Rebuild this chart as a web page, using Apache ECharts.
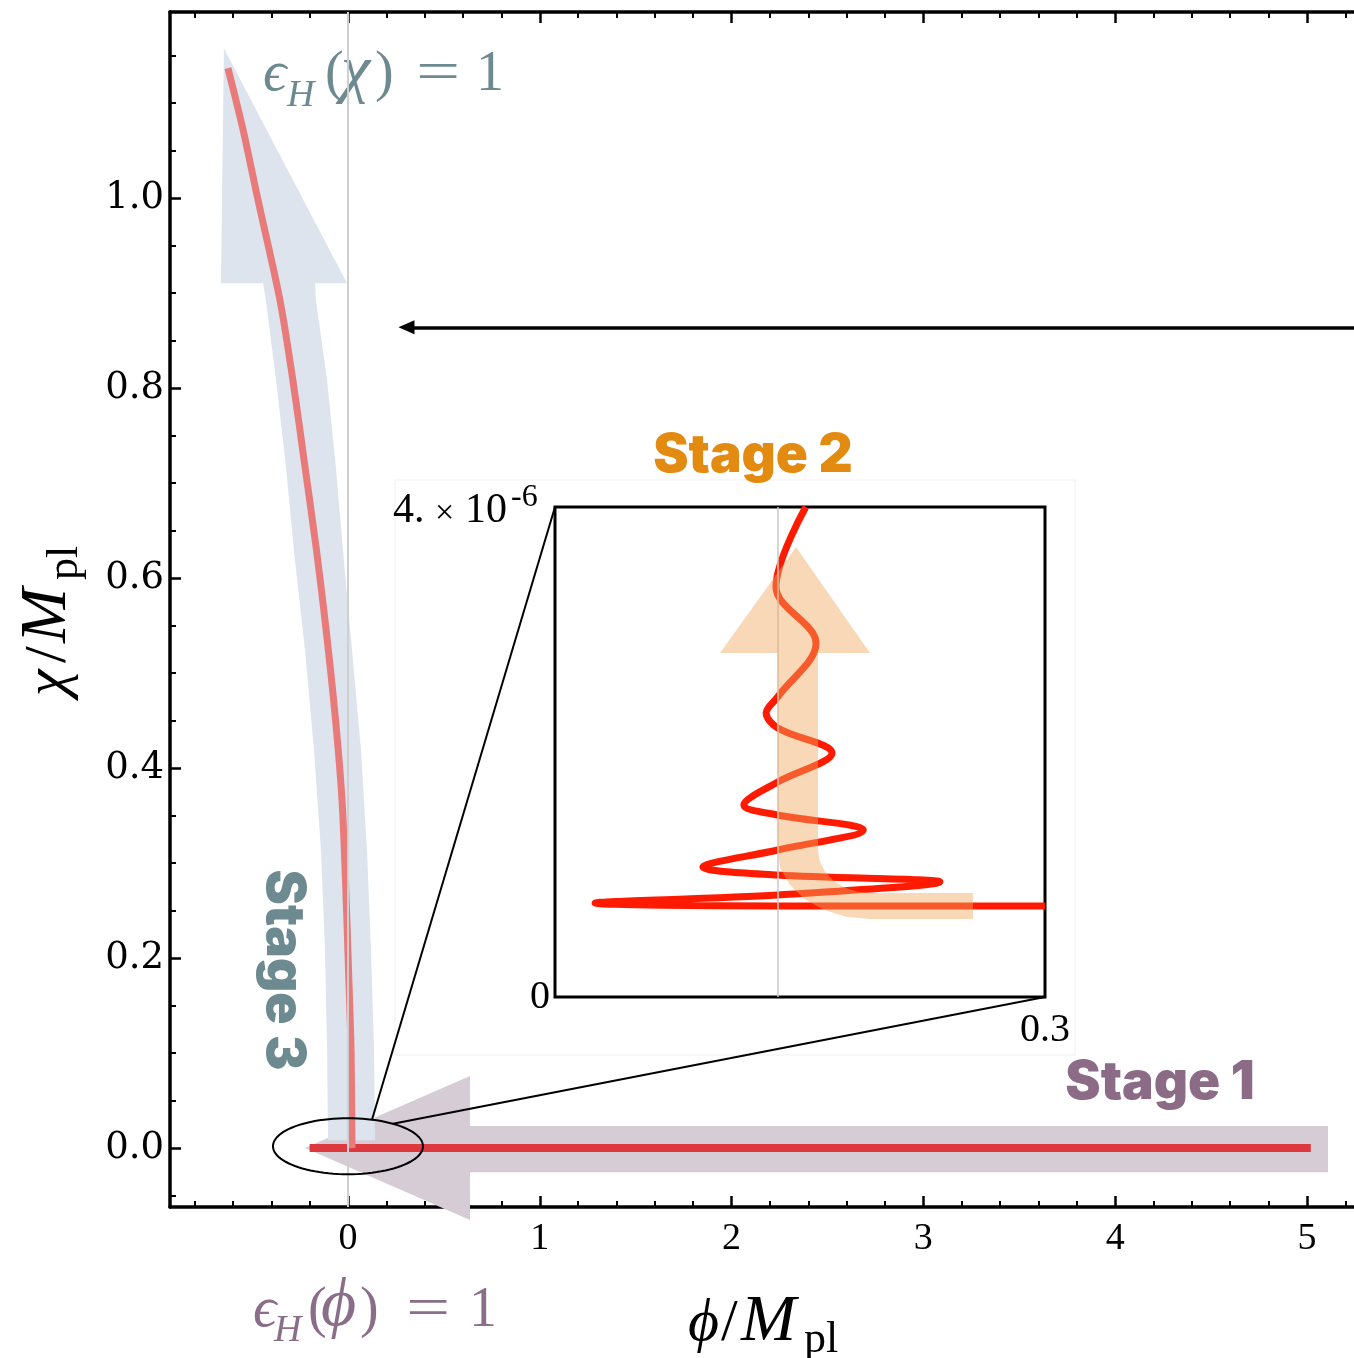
<!DOCTYPE html>
<html>
<head>
<meta charset="utf-8">
<script src="https://cdn.jsdelivr.net/npm/echarts@6/dist/echarts.min.js"></script>
<style>
  html, body { margin: 0; padding: 0; background: #ffffff; }
  #chart { width: 1354px; height: 1358px; }
</style>
</head>
<body>
<div id="chart"></div>
<script>
// ---- trajectory in field space (units of M_pl) ----
// Stage 1: phi rolls from large values down to the origin at chi ~ 0
const stage1Phi = [5.02, -0.20];
const stage1Chi = [0.0, 0.0];
// Stage 3: chi grows while phi drifts to negative values
const stage3Phi = [0.021, 0.016, 0.003, -0.013, -0.031, -0.065, -0.112, -0.164, -0.224, -0.287, -0.355, -0.469, -0.547, -0.626];
const stage3Chi = [0.000, 0.103, 0.187, 0.282, 0.366, 0.451, 0.542, 0.629, 0.717, 0.808, 0.893, 0.998, 1.072, 1.137];
// Stage 2 (magnified): damped oscillation of phi around 0 while chi starts to grow
const insetPhi = [0.300, 0.000, -0.205, 0.000, 0.182, 0.000, -0.084, 0.000, 0.096, 0.000, -0.038, 0.000, 0.061, 0.000, -0.013, 0.000, 0.043, -0.002, 0.0315];
const insetChi = [0.743e-6, 0.743e-6, 0.767e-6, 0.833e-6, 0.939e-6, 0.996e-6, 1.061e-6, 1.200e-6, 1.363e-6, 1.486e-6, 1.567e-6, 1.755e-6, 1.992e-6, 2.196e-6, 2.318e-6, 2.450e-6, 2.890e-6, 3.347e-6, 4.000e-6];

// ---- tick values / labels ----
const xMajorTicks = [0, 1, 2, 3, 4, 5];
const yMajorTicks = [0, 0.2, 0.4, 0.6, 0.8, 1.0];
const insetXLabels = [0.3];
const insetYLabels = [0];

// minor ticks: every 0.2 on phi, every 0.05 on chi
const xMinorTicks = [];
for (let i = -4; i <= 27; i++) if (i % 5 !== 0) xMinorTicks.push(i / 5);
const yMinorTicks = [];
for (let i = -1; i <= 23; i++) if (i % 4 !== 0) yMinorTicks.push(i / 20);

// ---- axis ranges ----
const X_MIN = -0.928, X_MAX = 5.6;
const Y_MIN = -0.062, Y_MAX = 1.196;
const IX_MIN = -0.25, IX_MAX = 0.3;
const IY_MIN = 0, IY_MAX = 4e-6;

const SERIF = '"Liberation Serif", "Times New Roman", serif';
const SERIF_WIDE = '"DejaVu Serif", serif';
const HEAVY = 'Inter, "Open Sans", sans-serif';

const toPairs = (xs, ys) => xs.map((x, i) => [x, ys[i]]);

// ---- arrow outlines (annotation shapes, in data coordinates) ----
const stage1ArrowShape = [
  [5.110, 0.0232], [5.110, -0.0253], [0.636, -0.0253], [0.636, -0.0758],
  [-0.224, 0.0], [0.636, 0.0758], [0.636, 0.0232]
];
const stage3ArrowShape = [
  [-0.104, 0.0084], [-0.109, 0.1032], [-0.120, 0.2084], [-0.141, 0.3137],
  [-0.177, 0.4189], [-0.224, 0.5242], [-0.282, 0.6295], [-0.323, 0.7168],
  [-0.375, 0.8084], [-0.428, 0.8926], [-0.443, 0.9105],
  [-0.662, 0.9105], [-0.647, 1.1579], [-0.005, 0.9105],
  [-0.172, 0.9105], [-0.167, 0.8926], [-0.109, 0.8084], [-0.063, 0.7168],
  [-0.026, 0.6295], [0.021, 0.5242], [0.068, 0.4189], [0.099, 0.3137],
  [0.120, 0.2084], [0.136, 0.1032], [0.141, 0.0084]
];
const stage2ArrowShape = [
  [0.000, 2.808], [0.000, 1.200], [0.0028, 1.054], [0.0132, 0.918], [0.0297, 0.802],
  [0.0514, 0.712], [0.0765, 0.656], [0.1036, 0.637], [0.2192, 0.637], [0.2192, 0.849],
  [0.1036, 0.849], [0.0884, 0.861], [0.0744, 0.896], [0.0623, 0.952], [0.0530, 1.024],
  [0.0472, 1.109], [0.0452, 1.200], [0.0452, 2.808], [0.1036, 2.808], [0.0205, 3.673],
  [-0.0648, 2.808]
].map(p => [p[0], p[1] * 1e-6]);

function polygonSeries(shape, fill, xi, yi, z) {
  return {
    type: 'custom', xAxisIndex: xi, yAxisIndex: yi, z: z, silent: true, clip: false,
    data: [[0, 0]],
    renderItem: function (params, api) {
      return {
        type: 'polygon',
        shape: { points: shape.map(p => api.coord(p)) },
        style: { fill: fill, stroke: 'none' }
      };
    }
  };
}

function axisBase(extra) {
  return Object.assign({
    type: 'value',
    splitLine: { show: false },
    axisPointer: { show: false }
  }, extra);
}

const lineOf = (w) => ({ color: '#000', width: w });

const option = {
  animation: false,
  backgroundColor: '#ffffff',
  grid: [
    { left: 170, top: 12, width: 1252, height: 1195, outerBoundsMode: 'none', containLabel: false },
    { left: 555, top: 507, width: 490, height: 490, outerBoundsMode: 'none', containLabel: false,
      show: true, borderColor: '#000', borderWidth: 3, backgroundColor: '#ffffff', z: 0 }
  ],
  xAxis: [
    axisBase({ gridIndex: 0, position: 'bottom', min: X_MIN, max: X_MAX,
      axisLine: { show: true, onZero: false, lineStyle: lineOf(3.5) },
      axisTick: { show: true, inside: true, length: 11, customValues: xMajorTicks, lineStyle: lineOf(2.5) },
      axisLabel: { show: true, customValues: xMajorTicks, color: '#000', fontFamily: SERIF, fontSize: 38, margin: 13 } }),
    axisBase({ gridIndex: 0, position: 'bottom', min: X_MIN, max: X_MAX,
      axisLine: { show: false, onZero: false },
      axisTick: { show: true, inside: true, length: 6, customValues: xMinorTicks, lineStyle: lineOf(2) },
      axisLabel: { show: false } }),
    axisBase({ gridIndex: 0, position: 'top', min: X_MIN, max: X_MAX,
      axisLine: { show: true, onZero: false, lineStyle: lineOf(3.5) },
      axisTick: { show: true, inside: true, length: 11, customValues: xMajorTicks, lineStyle: lineOf(2.5) },
      axisLabel: { show: false } }),
    axisBase({ gridIndex: 0, position: 'top', min: X_MIN, max: X_MAX,
      axisLine: { show: false, onZero: false },
      axisTick: { show: true, inside: true, length: 6, customValues: xMinorTicks, lineStyle: lineOf(2) },
      axisLabel: { show: false } }),
    axisBase({ gridIndex: 1, position: 'bottom', min: IX_MIN, max: IX_MAX,
      axisLine: { show: false, onZero: false }, axisTick: { show: false },
      axisLabel: { show: true, customValues: insetXLabels, color: '#000', fontFamily: SERIF, fontSize: 40, margin: 13,
        formatter: v => v.toFixed(1) } })
  ],
  yAxis: [
    axisBase({ gridIndex: 0, position: 'left', min: Y_MIN, max: Y_MAX,
      axisLine: { show: true, onZero: false, lineStyle: lineOf(3.5) },
      axisTick: { show: true, inside: true, length: 11, customValues: yMajorTicks, lineStyle: lineOf(2.5) },
      axisLabel: { show: true, customValues: yMajorTicks, color: '#000', fontFamily: SERIF_WIDE, fontSize: 37, margin: 6,
        formatter: v => v.toFixed(1) } }),
    axisBase({ gridIndex: 0, position: 'left', min: Y_MIN, max: Y_MAX,
      axisLine: { show: false, onZero: false },
      axisTick: { show: true, inside: true, length: 6, customValues: yMinorTicks, lineStyle: lineOf(2) },
      axisLabel: { show: false } }),
    axisBase({ gridIndex: 1, position: 'left', min: IY_MIN, max: IY_MAX,
      axisLine: { show: false, onZero: false }, axisTick: { show: false },
      axisLabel: { show: true, customValues: insetYLabels, color: '#000', fontFamily: SERIF, fontSize: 40, margin: 5,
        formatter: v => String(v) } })
  ],
  series: [
    // broad translucent stage arrows
    polygonSeries(stage1ArrowShape, '#d6ccd6', 0, 0, 1),
    polygonSeries(stage3ArrowShape, '#dde4ee', 0, 0, 1),
    // phi = 0 guide line
    {
      type: 'line', xAxisIndex: 0, yAxisIndex: 0, data: [], z: 2, silent: true,
      markLine: {
        silent: true, symbol: ['none', 'none'], label: { show: false },
        lineStyle: { color: '#cfcfcf', width: 2, type: 'solid' },
        data: [{ xAxis: 0 }]
      }
    },
    // stage 1 trajectory
    {
      name: 'stage1', type: 'line', xAxisIndex: 0, yAxisIndex: 0, z: 4,
      data: toPairs(stage1Phi, stage1Chi), showSymbol: false, symbol: 'none',
      lineStyle: { color: '#dd383d', width: 8, cap: 'butt' },
      markLine: {
        silent: true, symbol: ['none', 'triangle'], symbolSize: [14, 16], label: { show: false },
        lineStyle: { color: '#000', width: 3.5, type: 'solid' },
        data: [[{ coord: [5.55, 0.864] }, { coord: [0.305, 0.864] }]]
      }
    },
    // stage 3 trajectory
    {
      name: 'stage3', type: 'line', xAxisIndex: 0, yAxisIndex: 0, z: 4,
      data: toPairs(stage3Phi, stage3Chi), showSymbol: false, symbol: 'none', smooth: 0.3,
      lineStyle: { color: '#e87b7a', width: 7, cap: 'butt' }
    },
    // zoom ellipse around the origin
    {
      type: 'custom', xAxisIndex: 0, yAxisIndex: 0, z: 6, silent: true, clip: false,
      data: [[0, 0.002]],
      renderItem: function (params, api) {
        const c = api.coord([api.value(0), api.value(1)]);
        const pts = [];
        for (let k = 0; k < 96; k++) {
          const t = (k / 96) * Math.PI * 2;
          pts.push([c[0] + 75 * Math.cos(t), c[1] + 28 * Math.sin(t)]);
        }
        return { type: 'polygon', shape: { points: pts }, style: { fill: 'none', stroke: '#000', lineWidth: 2 } };
      }
    },
    // magnified panel: phi = 0 guide and the oscillating trajectory
    {
      type: 'line', xAxisIndex: 4, yAxisIndex: 2, data: [], z: 2, silent: true,
      markLine: {
        silent: true, symbol: ['none', 'none'], label: { show: false },
        lineStyle: { color: '#c9c9c9', width: 1.5, type: 'solid' },
        data: [{ xAxis: 0 }]
      }
    },
    {
      name: 'stage2', type: 'line', xAxisIndex: 4, yAxisIndex: 2, z: 4, clip: true,
      data: toPairs(insetPhi, insetChi), showSymbol: false, symbol: 'none', smooth: 0.35,
      lineStyle: { color: '#ff1a00', width: 7 }
    },
    polygonSeries(stage2ArrowShape, 'rgba(240,168,96,0.45)', 4, 2, 5)
  ]
};

const chart = echarts.init(document.getElementById('chart'), null, { renderer: 'canvas' });
chart.setOption(option);

// ---- math-style labels built from positioned pieces ----
function mathText(parts, x, y, color, rotation, z) {
  return {
    type: 'group', x: x, y: y, rotation: rotation || 0, z: z || 50, silent: true,
    children: parts.map(p => ({
      type: 'text', x: p.dx, y: (p.dy || 0) - 0.3 * p.size, scaleX: p.sx || 1,
      style: {
        text: p.t, fill: color,
        font: (p.it ? 'italic ' : 'normal ') + 'normal ' + p.size + 'px ' + SERIF,
        textAlign: 'left', textVerticalAlign: 'middle', align: 'left', verticalAlign: 'middle'
      }
    }))
  };
}

const origin = chart.convertToPixel({ gridIndex: 0 }, [0, 0.002]);
const insetTL = chart.convertToPixel({ gridIndex: 1 }, [IX_MIN, IY_MAX]);
const insetBR = chart.convertToPixel({ gridIndex: 1 }, [IX_MAX, IY_MIN]);

const epsChi = [
  { t: 'ϵ', it: true, size: 58, dx: 0 },
  { t: 'H', it: true, size: 38, dx: 24, dy: 15 },
  { t: '(', size: 56, dx: 62 },
  { t: 'χ', it: true, size: 66, dx: 78 },
  { t: ')', size: 56, dx: 112 },
  { t: '=', size: 56, dx: 153, sx: 1.4 },
  { t: '1', size: 56, dx: 213 }
];
const epsPhi = [
  { t: 'ϵ', it: true, size: 58, dx: 0 },
  { t: 'H', it: true, size: 38, dx: 21, dy: 14 },
  { t: '(', size: 56, dx: 55 },
  { t: 'ϕ', it: true, size: 68, dx: 68 },
  { t: ')', size: 56, dx: 107 },
  { t: '=', size: 56, dx: 153, sx: 1.4 },
  { t: '1', size: 56, dx: 216 }
];
const phiTitle = [
  { t: 'ϕ', it: true, size: 60, dx: 0 },
  { t: '/', size: 60, dx: 33 },
  { t: 'M', it: true, size: 66, dx: 53 },
  { t: 'pl', size: 44, dx: 116, dy: 12 }
];
const chiTitle = [
  { t: 'χ', it: true, size: 60, dx: 0 },
  { t: '/', size: 60, dx: 33 },
  { t: 'M', it: true, size: 66, dx: 53 },
  { t: 'pl', size: 44, dx: 116, dy: 12 }
];
const insetTop = [
  { t: '4.', size: 42, dx: 0 },
  { t: '×', size: 34, dx: 42 },
  { t: '10', size: 42, dx: 72 },
  { t: '-6', size: 32, dx: 118, dy: -17 }
];

function stageText(text, x, y, color, rotation) {
  return {
    type: 'text', x: x, y: y, rotation: rotation || 0, z: 60, silent: true,
    style: {
      text: text, fill: color, font: '900 53px ' + HEAVY,
      textAlign: 'center', textVerticalAlign: 'middle', align: 'center', verticalAlign: 'middle'
    }
  };
}

chart.setOption({
  graphic: [
    // faint frame of the magnified panel
    { type: 'rect', silent: true, z: 0, shape: { x: 395, y: 480, width: 680, height: 575 },
      style: { fill: 'none', stroke: '#f1f1f1', lineWidth: 1 } },
    // connectors from the ellipse to the magnified panel
    { type: 'line', silent: true, z: 40,
      shape: { x1: origin[0] + 24, y1: origin[1] - 26.5, x2: insetTL[0], y2: insetTL[1] },
      style: { stroke: '#000', lineWidth: 2 } },
    { type: 'line', silent: true, z: 40,
      shape: { x1: origin[0] + 45, y1: origin[1] - 22.4, x2: insetBR[0], y2: insetBR[1] },
      style: { stroke: '#000', lineWidth: 2 } },
    mathText(epsChi, 263, 92, '#6e8a91'),
    mathText(epsPhi, 253, 1328, '#8a6e89'),
    mathText(phiTitle, 688, 1342, '#000'),
    mathText(chiTitle, 67, 696, '#000', Math.PI / 2),
    mathText(insetTop, insetTL[0] - 162, insetTL[1] + 17, '#000'),
    stageText('Stage 2', 753, 456, '#e38a10'),
    stageText('Stage 1', 1160, 1083, '#8b6b86'),
    stageText('Stage 3', 283, 970, '#6e8a91', -Math.PI / 2)
  ]
});
</script>
</body>
</html>
